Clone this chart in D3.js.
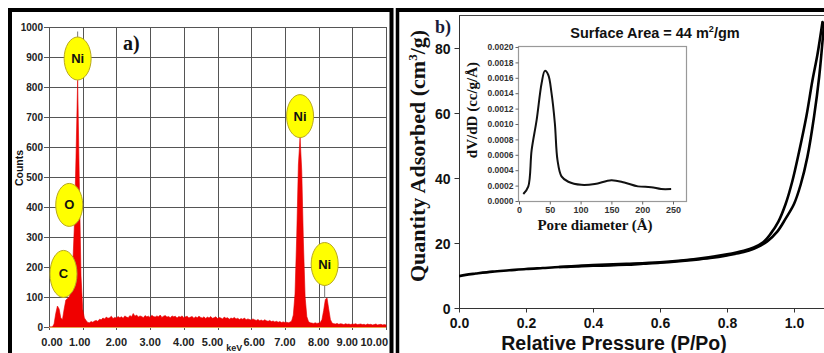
<!DOCTYPE html>
<html><head><meta charset="utf-8">
<script src="https://cdn.jsdelivr.net/npm/d3@7"></script>
<style>body{margin:0;background:#fff}svg{display:block}</style>
</head><body><svg id="c" width="824" height="353"></svg>
<script>
// ---------- Panel a: EDX spectrum ----------
const keVStep = 0.05; // spectrum sampled every 0.05 keV starting at 0.00 keV
const counts = [
  0,0,0,10,45,70,60,30,25,60,90,95,100,120,190,330,560,823,480,170,
  60,30,22,15,14,18,16,20,22,19,26,24,30,27,33,29,31,36,28,32,
  30,35,31,34,29,37,33,31,38,34,45,36,40,33,37,35,31,38,34,36,
  32,39,35,33,37,34,40,32,36,38,33,35,31,37,34,36,30,35,33,37,
  31,34,36,30,33,35,29,34,31,36,32,30,34,28,33,30,35,29,31,34,
  28,32,30,27,33,29,31,26,30,28,32,27,29,25,28,26,30,24,27,25,
  23,27,24,22,25,21,23,20,24,21,19,22,18,20,17,19,16,18,15,17,
  15,16,14,16,20,40,110,300,540,633,520,280,100,35,18,14,13,12,14,12,
  13,15,25,55,92,97,60,25,13,11,10,12,9,11,10,8,11,9,10,8,
  10,9,11,8,9,10,8,9,7,10,8,9,7,8,10,7,8,9,7,8,
  7
];
const keVTicks = [0,1,2,3,4,5,6,7,8,9,10];
const keVTickLabels = ["0.00","1.00","2.00","3.00","4.00","5.00","6.00","7.00","8.00","9.00","10.00"];
const countTicks = [0,100,200,300,400,500,600,700,800,900,1000];
const peakNames = ["Ni","O","C","Ni","Ni"];
const peakKeV   = [0.85, 0.60, 0.43, 7.45, 8.18];
const labelAt   = [895, 407, 177, 703, 210];
const peakTop   = [823, 407, 177, 633, 97];
const stemTop   = [985, 407, 177, 703, 210];

// ---------- Panel b: N2 isotherm ----------
const adsP = [0.00,0.02,0.05,0.10,0.15,0.20,0.25,0.30,0.35,0.40,0.45,0.50,0.55,0.60,0.65,0.70,0.75,0.80,0.85,0.88,0.90,0.92,0.95,0.975,1.00,1.02,1.04,1.06,1.075,1.09];
const adsQ = [9.8,10.2,10.6,11.2,11.6,12.0,12.3,12.6,12.8,13.0,13.1,13.3,13.6,13.9,14.3,14.8,15.4,16.2,17.2,18.2,19.2,20.5,23.5,27.5,32,38,46.5,59,71,88];
const desP = [1.085,1.07,1.055,1.037,1.015,0.995,0.975,0.953,0.93,0.908,0.88,0.85,0.80,0.70,0.60,0.50,0.40,0.30];
const desQ = [88,78,70,59,48,39,32,26.5,22.8,20.2,18.6,17.6,16.5,15.0,14.1,13.6,13.2,12.62];
const pTicks = [0,0.2,0.4,0.6,0.8,1.0];
const qTicks = [0,20,40,60,80];

// ---------- Inset: pore size distribution ----------
const poreD = [7,15,20.5,28.6,36.7,42,47.4,52.8,58.2,62.5,69,80,101,123,150,171,193,214.5,230.7,247];
const dVdD  = [0.00009,0.000186,0.00066,0.00105,0.00153,0.00169,0.00164,0.0014,0.00101,0.00053,0.00032,0.00025,0.00021,0.00022,0.00027,0.00024,0.00019,0.00018,0.000156,0.000156];
const dTicks = [0,50,100,150,200,250];
const vTicks = [0,0.0002,0.0004,0.0006,0.0008,0.0010,0.0012,0.0014,0.0016,0.0018,0.0020];

const SANS = "'Liberation Sans', Arial, sans-serif";
const SERIF = "'Liberation Serif', 'Times New Roman', serif";
const svg = d3.select("#c");

// ================= Panel a =================
const xA = d3.scaleLinear([0,10],[49,386]);
const yA = d3.scaleLinear([0,1000],[327,27]);
const gA = svg.append("g");

gA.selectAll("line.h").data(countTicks).join("line")
  .attr("x1", 44).attr("x2", xA(10)).attr("y1", d=>yA(d)+0.5).attr("y2", d=>yA(d)+0.5)
  .attr("stroke","#555").attr("stroke-width",1);
gA.selectAll("line.v").data(keVTicks).join("line")
  .attr("x1", d=>Math.round(xA(d))+0.5).attr("x2", d=>Math.round(xA(d))+0.5)
  .attr("y1", yA(1000)).attr("y2", yA(0)+3)
  .attr("stroke","#555").attr("stroke-width",1);

const area = d3.area().x((d,i)=>xA(i*keVStep)).y0(yA(0)).y1(d=>yA(d));
gA.append("path").datum(counts).attr("d", area).attr("fill","#f00000").attr("stroke","#e00000").attr("stroke-width",0.6);
gA.append("line").attr("x1",xA(0)).attr("x2",xA(10)).attr("y1",yA(0)+0.5).attr("y2",yA(0)+0.5)
  .attr("stroke","#e8a050").attr("stroke-width",1.2);

gA.selectAll("text.yl").data(countTicks).join("text")
  .attr("x",43).attr("y",d=>yA(d)+3.6).attr("text-anchor","end")
  .attr("font-family",SANS).attr("font-weight","bold").attr("font-size",10).attr("fill","#222")
  .text(d=>d);
const labelShift = d => d===5 ? -5 : d===6 ? 3 : d===9 ? -5 : d===0 ? 3 : d===1 ? -3 : 0;
gA.selectAll("text.xl").data(keVTicks).join("text")
  .attr("x",d=> d===10 ? xA(d)+2 : xA(d)+labelShift(d)).attr("y",346)
  .attr("text-anchor",d=> d===10 ? "end" : "middle")
  .attr("font-family",SANS).attr("font-weight","bold").attr("font-size",11).attr("fill","#222")
  .text((d,i)=>keVTickLabels[i]);
gA.append("text").attr("x",(xA(5)+xA(6))/2).attr("y",351).attr("text-anchor","middle")
  .attr("font-family",SANS).attr("font-weight","bold").attr("font-size",9).attr("fill","#222").text("keV");
gA.append("text").attr("transform","translate(23,168) rotate(-90)").attr("text-anchor","middle")
  .attr("font-family",SANS).attr("font-weight","bold").attr("font-size",10.5).attr("fill","#111").text("Counts");

peakNames.forEach((n,i)=>{
  gA.append("line").attr("x1",xA(peakKeV[i])).attr("x2",xA(peakKeV[i]))
    .attr("y1",yA(peakTop[i])).attr("y2",yA(stemTop[i]))
    .attr("stroke","#777").attr("stroke-width",1);
});
peakNames.forEach((n,i)=>{
  const cx = xA(peakKeV[i]), cy = yA(labelAt[i]);
  gA.append("ellipse").attr("cx",cx).attr("cy",cy).attr("rx",13.5).attr("ry",i===2?23.5:21.5)
    .attr("fill","#ffff00").attr("stroke","#b8a820").attr("stroke-width",1);
  gA.append("text").attr("x",cx).attr("y",cy+4.5).attr("text-anchor","middle")
    .attr("font-family",SANS).attr("font-weight","bold").attr("font-size",13).attr("fill","#111").text(n);
});
gA.append("text").attr("x",123).attr("y",50).attr("font-family",SERIF).attr("font-weight","bold")
  .attr("font-size",20).attr("fill","#111").text("a)");

gA.append("rect").attr("x",10).attr("y",10).attr("width",381.5).attr("height",380)
  .attr("fill","none").attr("stroke","#000").attr("stroke-width",4);

// ================= Panel b =================
const xB = d3.scaleLinear([0,1],[459,794]);
const yB = d3.scaleLinear([0,80],[308,48]);
const gB = svg.append("g");
svg.append("defs").append("clipPath").attr("id","clipB").append("rect")
  .attr("x",459).attr("y",15.5).attr("width",824-459).attr("height",308-15.5);

gB.append("line").attr("x1",459.5).attr("x2",459.5).attr("y1",15.5).attr("y2",308).attr("stroke","#333");
gB.append("line").attr("x1",459).attr("x2",824).attr("y1",308.5).attr("y2",308.5).attr("stroke","#333");
gB.append("line").attr("x1",459).attr("x2",824).attr("y1",15.5).attr("y2",15.5).attr("stroke","#444");

const axL = d3.axisLeft(yB).tickValues(qTicks).tickSize(5).tickSizeOuter(0).tickPadding(4);
const gL = gB.append("g").attr("transform","translate(459.5,0)").call(axL);
gL.select(".domain").remove();
gL.selectAll("line").attr("stroke","#333");
gL.selectAll("text").attr("font-family",SANS).attr("font-weight","bold").attr("font-size",14).attr("fill","#111").attr("dy","0.36em");

const axBt = d3.axisBottom(xB).tickValues(pTicks).tickFormat(d3.format(".1f")).tickSize(4).tickSizeOuter(0).tickPadding(6);
const gX = gB.append("g").attr("transform","translate(0,308.5)").call(axBt);
gX.select(".domain").remove();
gX.selectAll("line").attr("stroke","#333");
gX.selectAll("text").attr("font-family",SANS).attr("font-weight","bold").attr("font-size",14).attr("fill","#111");

const lineB = d3.line().x(d=>xB(d[0])).y(d=>yB(d[1])).curve(d3.curveCatmullRom.alpha(0.5));
const gCurve = gB.append("g").attr("clip-path","url(#clipB)");
gCurve.append("path").datum(adsP.map((p,i)=>[p,adsQ[i]])).attr("d",lineB)
  .attr("fill","none").attr("stroke","#000").attr("stroke-width",2.6);
gCurve.append("path").datum(desP.map((p,i)=>[p,desQ[i]])).attr("d",lineB)
  .attr("fill","none").attr("stroke","#000").attr("stroke-width",2.6).attr("stroke-linecap","round");

gB.append("text").attr("x",614).attr("y",350).attr("text-anchor","middle")
  .attr("font-family",SANS).attr("font-weight","bold").attr("font-size",19.5).attr("fill","#111")
  .text("Relative Pressure (P/Po)");
const yt = gB.append("text").attr("transform","translate(425,156) rotate(-90)").attr("text-anchor","middle")
  .attr("font-family",SERIF).attr("font-weight","bold").attr("font-size",22).attr("fill","#111");
yt.append("tspan").text("Quantity Adsorbed (cm");
yt.append("tspan").attr("dy",-8).attr("font-size",13).text("3");
yt.append("tspan").attr("dy",8).text("/g)");
gB.append("text").attr("x",435).attr("y",33).attr("font-family",SERIF).attr("font-weight","bold")
  .attr("font-size",18).attr("fill","#1a1a3a").text("b)");
const sa = gB.append("text").attr("x",655).attr("y",38).attr("text-anchor","middle")
  .attr("font-family",SANS).attr("font-weight","bold").attr("font-size",14.5).attr("fill","#111");
sa.append("tspan").text("Surface Area = 44 m");
sa.append("tspan").attr("dy",-6).attr("font-size",9).text("2");
sa.append("tspan").attr("dy",6).text("/gm");

// ---------- Inset ----------
const xI = d3.scaleLinear([0,250],[519,673]);
const yI = d3.scaleLinear([0,0.002],[201,47]);
const gI = svg.append("g");
gI.append("rect").attr("x",518.5).attr("y",46.5).attr("width",168).attr("height",155)
  .attr("fill","#fff").attr("stroke","#999").attr("stroke-width",1.2);
const aIL = d3.axisLeft(yI).tickValues(vTicks).tickFormat(d3.format(".4f")).tickSize(3).tickSizeOuter(0).tickPadding(2);
const gIL = gI.append("g").attr("transform","translate(518.5,0)").call(aIL);
gIL.select(".domain").remove();
gIL.selectAll("line").attr("stroke","#666");
gIL.selectAll("text").attr("font-family",SANS).attr("font-weight","bold").attr("font-size",8.5).attr("fill","#333");
const aIB = d3.axisBottom(xI).tickValues(dTicks).tickSize(3).tickSizeOuter(0).tickPadding(2);
const gIB = gI.append("g").attr("transform","translate(0,201.5)").call(aIB);
gIB.select(".domain").remove();
gIB.selectAll("line").attr("stroke","#666");
gIB.selectAll("text").attr("font-family",SANS).attr("font-weight","bold").attr("font-size",9).attr("fill","#333");
const lineI = d3.line().x(d=>xI(d[0])).y(d=>yI(d[1])).curve(d3.curveCatmullRom.alpha(0.5));
gI.append("path").datum(poreD.map((d,i)=>[d,dVdD[i]])).attr("d",lineI)
  .attr("fill","none").attr("stroke","#111").attr("stroke-width",2);
gI.append("text").attr("x",595).attr("y",230).attr("text-anchor","middle")
  .attr("font-family",SERIF).attr("font-weight","bold").attr("font-size",15).attr("fill","#111")
  .text("Pore diameter (Å)");
gI.append("text").attr("transform","translate(477,110) rotate(-90)").attr("text-anchor","middle")
  .attr("font-family",SERIF).attr("font-weight","bold").attr("font-size",15).attr("fill","#111")
  .text("dV/dD (cc/g/Å)");

svg.append("line").attr("x1",397.5).attr("x2",397.5).attr("y1",8).attr("y2",353).attr("stroke","#000").attr("stroke-width",3.5);
svg.append("line").attr("x1",396).attr("x2",824).attr("y1",10).attr("y2",10).attr("stroke","#000").attr("stroke-width",4);
</script></body></html>
